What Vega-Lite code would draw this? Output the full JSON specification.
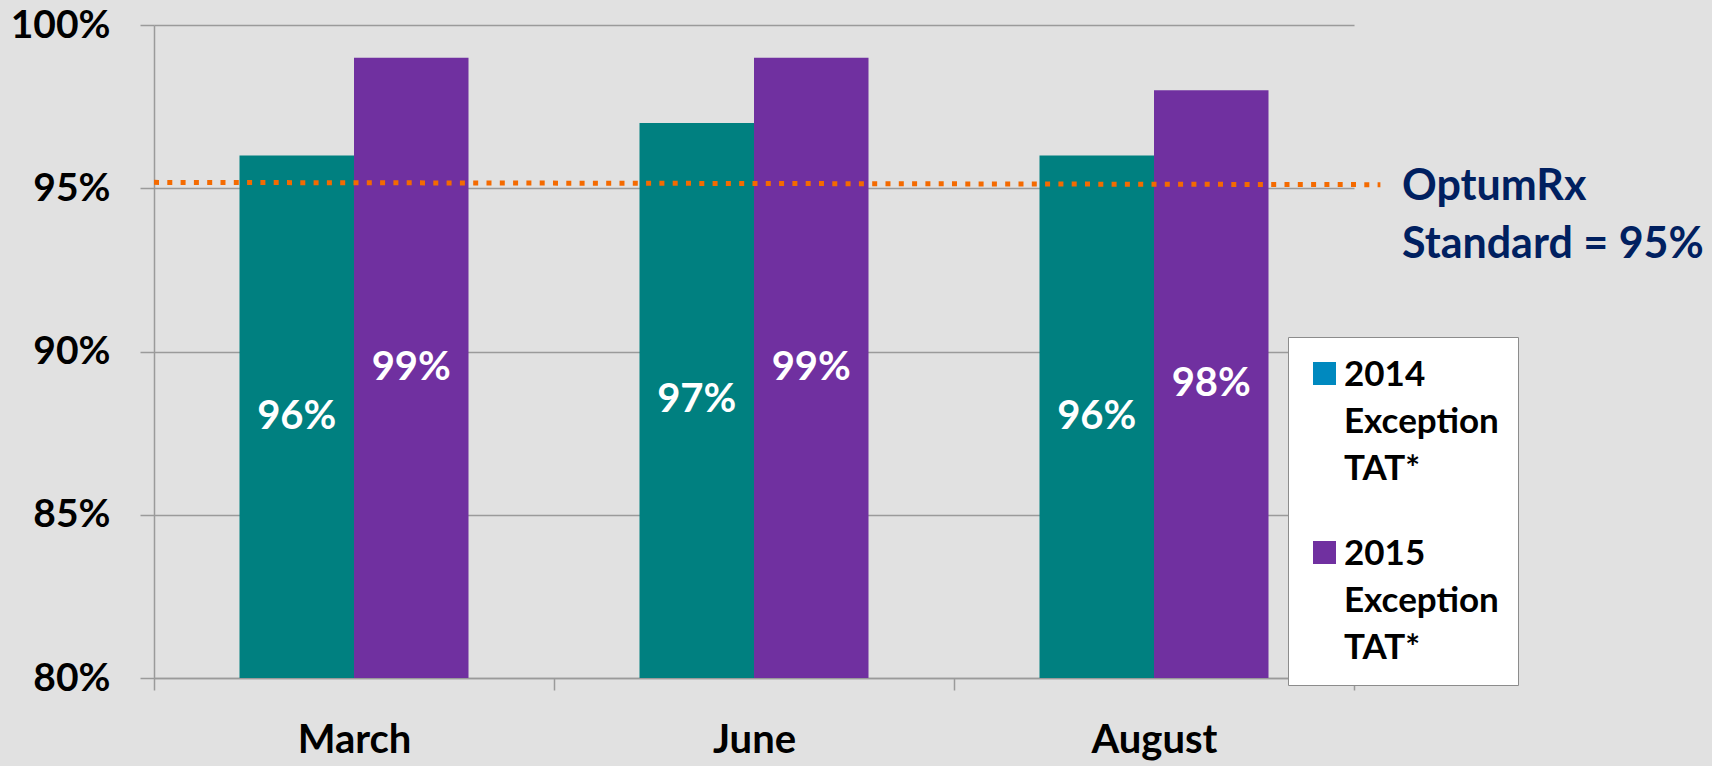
{
  "$schema": "https://vega.github.io/schema/vega-lite/v6.json",
  "width": 1200,
  "height": 653,
  "autosize": {"type": "none"},
  "padding": {"left": 154, "top": 25, "right": 358, "bottom": 88},
  "background": "#E1E1E1",
  "data": {
    "values": [
      {"month": "March", "series": "2014 Exception TAT*", "value": 0.96},
      {"month": "March", "series": "2015 Exception TAT*", "value": 0.99},
      {"month": "June", "series": "2014 Exception TAT*", "value": 0.97},
      {"month": "June", "series": "2015 Exception TAT*", "value": 0.99},
      {"month": "August", "series": "2014 Exception TAT*", "value": 0.96},
      {"month": "August", "series": "2015 Exception TAT*", "value": 0.98}
    ]
  },
  "resolve": {"scale": {"x": "independent", "y": "independent"}},
  "layer": [
    {
      "resolve": {"scale": {"y": "independent", "color": "independent"}},
      "encoding": {
        "x": {
          "field": "month", "type": "nominal", "sort": ["March", "June", "August"],
          "scale": {"paddingInner": 0, "paddingOuter": 0},
          "axis": {
            "title": null, "labelAngle": 0, "tickBand": "extent", "tickSize": 12,
            "labelPadding": 30, "labelFont": "Lato", "labelFontWeight": "bold", "labelFontSize": 40,
            "labelColor": "black", "tickColor": "#9A9A9A", "tickWidth": 1.5,
            "domainColor": "#9A9A9A", "domainWidth": 1.5, "grid": false
          }
        },
        "xOffset": {"field": "series", "type": "nominal", "scale": {"paddingInner": 0, "paddingOuter": 0.7467}}
      },
      "layer": [
        {
          "mark": {"type": "bar"},
          "encoding": {
            "y": {
              "field": "value", "type": "quantitative",
              "scale": {"domain": [0.8, 1.0], "zero": false, "nice": false},
              "axis": {
                "title": null, "values": [0.8, 0.85, 0.9, 0.95, 1.0], "format": ".0%",
                "labelFont": "Lato", "labelFontWeight": "bold", "labelFontSize": 39, "labelColor": "black",
                "labelPadding": 30, "tickSize": 14, "tickColor": "#9A9A9A", "tickWidth": 1.5,
                "domainColor": "#9A9A9A", "domainWidth": 1.5,
                "grid": true, "gridColor": "#9A9A9A", "gridWidth": 1.5
              }
            },
            "y2": {"datum": 0.8},
            "color": {
              "field": "series", "type": "nominal",
              "scale": {"range": ["#008080", "#7030A0"]},
              "legend": null
            }
          }
        },
        {
          "mark": {"type": "bar", "opacity": 0},
          "encoding": {
            "y": {
              "field": "value", "type": "quantitative",
              "scale": {"domain": [0.8, 1.0], "zero": false, "nice": false}, "axis": null
            },
            "y2": {"datum": 0.8},
            "color": {
              "field": "series", "type": "nominal",
              "scale": {"range": ["#0089BF", "#7030A0"]},
              "legend": {
                "orient": "none", "legendX": 1134, "legendY": 312, "title": null,
                "fillColor": "white", "strokeColor": "#8C8C8C", "padding": 19,
                "symbolType": "square", "symbolSize": 529, "symbolStrokeWidth": 0, "symbolOpacity": 1,
                "labelFont": "Lato", "labelFontWeight": "bold", "labelFontSize": 35, "labelColor": "black",
                "labelLimit": 400, "labelOffset": 2, "rowPadding": 48,
                "labelExpr": "split(datum.label, ' ')",
                "encode": {
                  "labels": {"update": {"lineHeight": {"value": 47}, "baseline": {"value": "alphabetic"}, "dy": {"value": 12}}}
                }
              }
            }
          }
        },
        {
          "mark": {"type": "text", "font": "Lato", "fontWeight": "bold", "fontSize": 40, "color": "white"},
          "encoding": {
            "y": {
              "field": "value", "type": "quantitative",
              "scale": {"domain": [0.8, 1.2], "zero": false, "nice": false}, "axis": null
            },
            "text": {"field": "value", "format": ".0%"}
          }
        }
      ]
    },
    {
      "data": {"values": [{"standard": 0.95}]},
      "mark": {"type": "rule", "color": "#F46A00", "strokeWidth": 5, "strokeDash": [5, 8.3], "strokeCap": "butt"},
      "encoding": {
        "x": {"datum": 0, "type": "quantitative", "scale": {"domain": [0, 1], "nice": false}, "axis": null},
        "x2": {"datum": 1.022},
        "y": {"datum": 0.9518, "type": "quantitative", "scale": {"domain": [0.8, 1.0], "zero": false, "nice": false}, "axis": null},
        "y2": {"datum": 0.9511}
      }
    },
    {
      "data": {"values": [{"note": "OptumRx Standard = 95%"}]},
      "mark": {"type": "text", "font": "Lato", "fontWeight": "bold", "fontSize": 43, "color": "#002060", "align": "left", "baseline": "alphabetic", "lineHeight": 58},
      "encoding": {
        "x": {"datum": 1.04, "type": "quantitative", "scale": {"domain": [0, 1], "nice": false}, "axis": null},
        "y": {"datum": 0.9464, "type": "quantitative", "scale": {"domain": [0.8, 1.0], "zero": false, "nice": false}, "axis": null},
        "text": {"value": ["OptumRx", "Standard = 95%"]}
      }
    }
  ],
  "config": {"view": {"stroke": null}}
}
